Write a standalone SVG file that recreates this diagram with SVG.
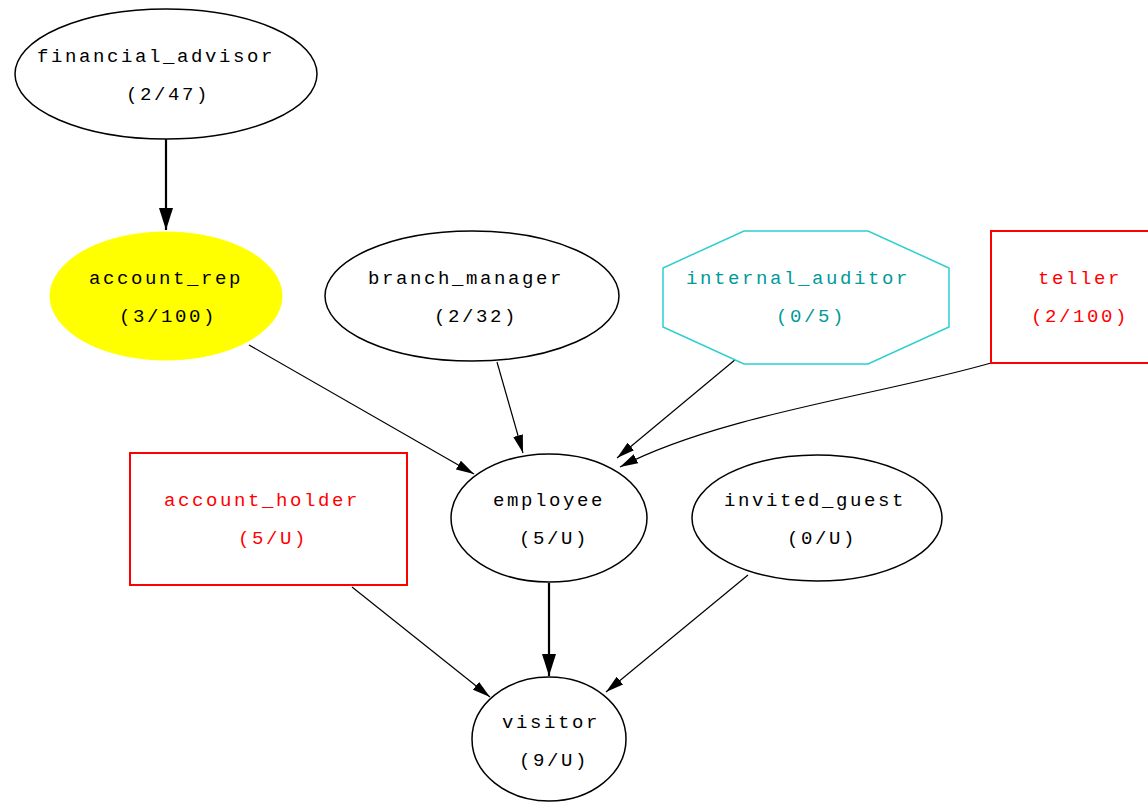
<svg xmlns="http://www.w3.org/2000/svg" width="1148" height="804" viewBox="0 0 1148 804">
<style>
text{font-family:"Liberation Mono","DejaVu Sans Mono",monospace;font-size:19px;letter-spacing:2.6px;text-anchor:middle;fill:#000}
.n{fill:#fff;stroke:#000;stroke-width:1.5}
.red text{fill:#ff0000}
.red rect{fill:#fff;stroke:#ff0000;stroke-width:2}
.cyan text{fill:#009a9a}
.cyan polygon{fill:#fff;stroke:#2ccfcf;stroke-width:1.5}
.e{fill:none;stroke:#000;stroke-width:1.2}
.t{fill:none;stroke:#000;stroke-width:2.2}
</style>
<defs>
<marker id="ah" markerUnits="userSpaceOnUse" viewBox="0 0 18 10" refX="18" refY="5" markerWidth="18" markerHeight="10" orient="auto"><path d="M0,0 L18,5 L0,10 Z" fill="#000"/></marker>
<marker id="ahb" markerUnits="userSpaceOnUse" viewBox="0 0 22 14" refX="22" refY="7" markerWidth="22" markerHeight="14" orient="auto"><path d="M0,0 L22,7 L0,14 Z" fill="#000"/></marker>
</defs>
<rect width="1148" height="804" fill="#fff"/>
<g id="connectors">
<path class="t" d="M166,139 L166,230" marker-end="url(#ahb)"/>
<path class="e" d="M249,345 L474,474" marker-end="url(#ah)"/>
<path class="e" d="M497,362 L523,453" marker-end="url(#ah)"/>
<path class="e" d="M736,359 L617,458" marker-end="url(#ah)"/>
<path class="e" d="M991,363 C880,395 720,415 620,467" marker-end="url(#ah)"/>
<path class="e" d="M352,587 L490,697" marker-end="url(#ah)"/>
<path class="t" d="M549,583 L549,676" marker-end="url(#ahb)"/>
<path class="e" d="M748,575 L606,692" marker-end="url(#ah)"/>
</g>
<g id="financial_advisor"><ellipse class="n" cx="166" cy="74" rx="151" ry="65"/><text x="156" y="62">financial_advisor</text><text x="168" y="100">(2/47)</text></g>
<g id="account_rep"><ellipse cx="166" cy="296" rx="116" ry="64" fill="#ffff00" stroke="#ffff00"/><text x="166" y="284">account_rep</text><text x="168" y="322">(3/100)</text></g>
<g id="branch_manager"><ellipse class="n" cx="472" cy="296" rx="147" ry="65"/><text x="466" y="284">branch_manager</text><text x="476" y="322">(2/32)</text></g>
<g id="internal_auditor" class="cyan"><polygon points="744,231 868,231 949,268 949,327 868,364 744,364 663,327 663,268"/><text x="798" y="284">internal_auditor</text><text x="811" y="322">(0/5)</text></g>
<g id="teller" class="red"><rect x="991" y="231" width="180" height="132"/><text x="1080" y="284">teller</text><text x="1080" y="322">(2/100)</text></g>
<g id="account_holder" class="red"><rect x="130" y="453" width="277" height="132"/><text x="262" y="506">account_holder</text><text x="273" y="544">(5/U)</text></g>
<g id="employee"><ellipse class="n" cx="549" cy="518" rx="98" ry="64"/><text x="549" y="506">employee</text><text x="554" y="544">(5/U)</text></g>
<g id="invited_guest"><ellipse class="n" cx="817" cy="518" rx="125" ry="63"/><text x="815" y="506">invited_guest</text><text x="822" y="544">(0/U)</text></g>
<g id="visitor"><ellipse class="n" cx="549" cy="739" rx="77" ry="62"/><text x="551" y="728">visitor</text><text x="554" y="766">(9/U)</text></g>
</svg>
